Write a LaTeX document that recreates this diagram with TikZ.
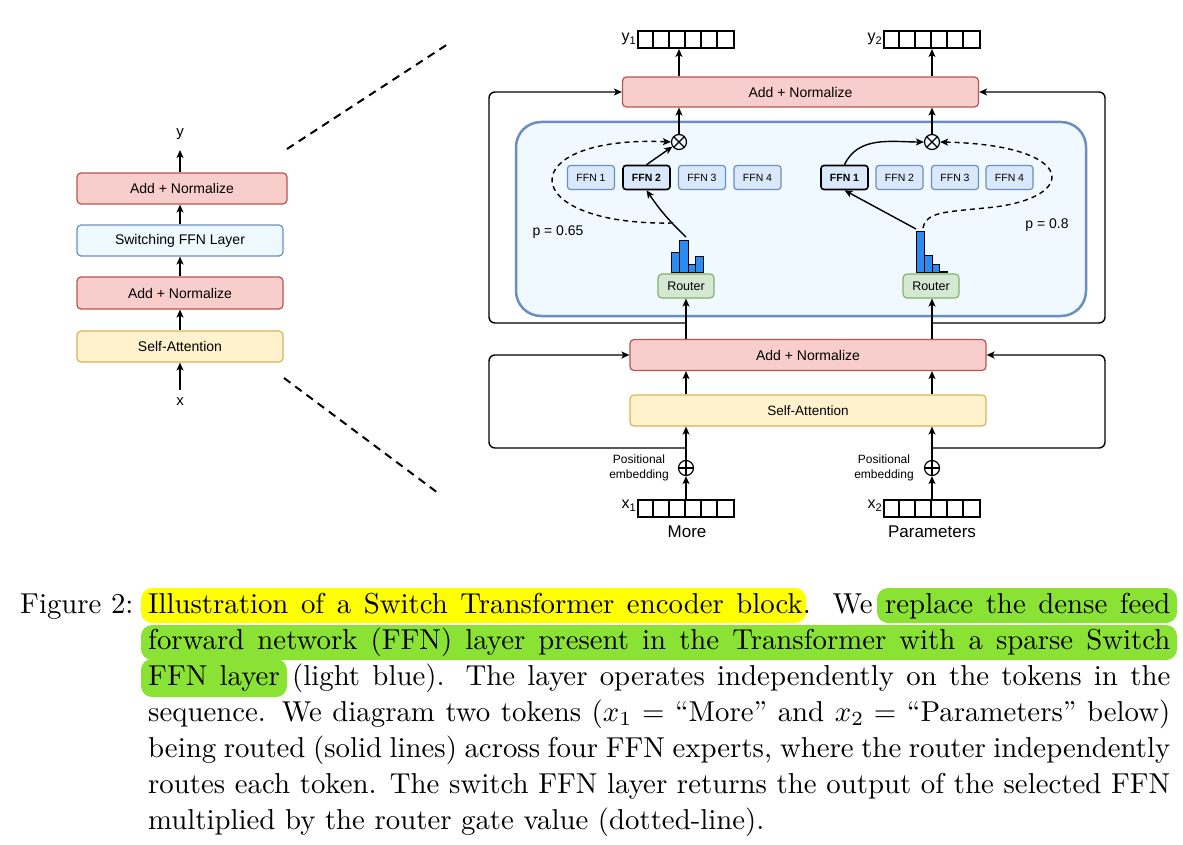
\documentclass[tikz,border=0pt]{standalone}
\usepackage{fontspec}
\newfontfamily\dfont{Liberation Sans}
\usetikzlibrary{arrows.meta,calc}
\definecolor{redF}{HTML}{F8CECC}
\definecolor{redD}{HTML}{B85450}
\definecolor{blueF}{HTML}{DAE8FC}
\definecolor{blueD}{HTML}{6C8EBF}
\definecolor{paleF}{HTML}{EEF8FF}
\definecolor{contF}{HTML}{F0F9FF}
\definecolor{yelF}{HTML}{FFF2CC}
\definecolor{yelD}{HTML}{D6B656}
\definecolor{grnF}{HTML}{D5E8D4}
\definecolor{grnD}{HTML}{82B366}
\definecolor{barF}{HTML}{2A8CF0}
\definecolor{hlY}{HTML}{FFFF00}
\definecolor{hlG}{HTML}{8AE234}
\newcommand\dfs[1]{\dfont\fontsize{#1}{#1}\selectfont}
\begin{document}
\begin{tikzpicture}[x=1pt,y=-1pt,
  arr/.style={-{Stealth[length=8pt,width=7pt,inset=2pt]},line width=1.4pt},
  dsh/.style={line width=1.4pt,dash pattern=on 5pt off 4pt},
  zoomln/.style={line width=2pt,dash pattern=on 8pt off 6pt},
  loopln/.style={arr,rounded corners=6pt},
  blk/.style={rectangle,rounded corners=4pt,line width=1.2pt,inner sep=0pt,font=\dfs{14}},
  rbox/.style={blk,draw=redD,fill=redF},
  ybox/.style={blk,draw=yelD,fill=yelF},
  pbox/.style={blk,draw=blueD,fill=paleF},
  gbox/.style={blk,draw=grnD,fill=grnF,minimum width=56pt,minimum height=24pt,font=\dfs{12.5}},
  ffn/.style={rectangle,rounded corners=3pt,draw=blueD,fill=blueF,line width=1.2pt,minimum width=47pt,minimum height=24pt,inner sep=0pt,font=\dfs{10.5}},
  ffnsel/.style={ffn,draw=black,line width=1.6pt,font=\dfs{10.5}\bfseries},
  vecn/.style={rectangle,draw,line width=2pt,minimum width=96pt,minimum height=17pt,inner sep=0pt},
  opn/.style={circle,draw,line width=1.2pt,minimum size=15pt,inner sep=0pt},
  bar/.style={draw=black,fill=barF,line width=1pt},
  lbl/.style={inner sep=1pt},
]
\useasboundingbox (0,0) rectangle (1183,845);

% ---------- left block ----------
\node[rbox,minimum width=210pt,minimum height=31pt] (lAddB) at (182,188.5) {Add + Normalize};
\node[pbox,minimum width=206pt,minimum height=31pt] (lSw) at (180,240.5) {Switching FFN Layer};
\node[rbox,minimum width=206pt,minimum height=32pt] (lAddA) at (180,293) {Add + Normalize};
\node[ybox,minimum width=206pt,minimum height=31pt] (lSA) at (180,346.5) {Self-Attention};
\node[lbl,font=\dfs{15}] (ly) at (180,134) {y};
\node[lbl,font=\dfs{15}] (lx) at (180,402) {x};
\coordinate (lyA) at (180,150);
\coordinate (lxA) at (180,390);
\draw[arr] (lxA) -- (lSA.south);
\draw[arr] (lSA.north) -- (lAddA.south);
\draw[arr] (lAddA.north) -- (lSw.south);
\draw[arr] (lSw.north) -- (lSw.north |- lAddB.south);
\draw[arr] (lSw.north |- lAddB.north) -- (lyA);

% zoom lines
\coordinate (zA1) at (287,149);
\coordinate (zA2) at (448,44);
\coordinate (zB1) at (284,378);
\coordinate (zB2) at (438,493);
\draw[zoomln] (zA1) -- (zA2);
\draw[zoomln] (zB1) -- (zB2);

% ---------- main block ----------
\node[draw=blueD,fill=contF,line width=2.5pt,rounded corners=25pt,minimum width=570pt,minimum height=194pt,inner sep=0pt] (cont) at (801,219) {};

% loops
\coordinate (jL1) at (686,323);
\coordinate (jL2) at (686,448);
\coordinate (jR1) at (932,323);
\coordinate (jR2) at (932,448);

\node[rbox,minimum width=356pt,minimum height=30pt] (addT) at (800.5,92) {Add + Normalize};
\node[rbox,minimum width=356pt,minimum height=31pt] (addM) at (808,355) {Add + Normalize};
\node[ybox,minimum width=356pt,minimum height=31pt,font=\dfs{13.5}] (selfA) at (808,410.5) {Self-Attention};

\draw[loopln] (jL1) -- (489,323) -- (489,92) -- (addT.west);
\draw[loopln] (jL2) -- (489,448) -- (489,355) -- (addM.west);
\draw[loopln] (jR1) -- (1105,323) -- (1105,92) -- (addT.east);
\draw[loopln] (jR2) -- (1105,448) -- (1105,355) -- (addM.east);

\node[opn] (otL) at (679,142) {};
\node[opn] (otR) at (932,142) {};
\node[opn] (opL) at (686,468) {};
\node[opn] (opR) at (932,468) {};
\foreach \n in {otL,otR}{\draw[line width=1.2pt] (\n.north west) -- (\n.south east) (\n.north east) -- (\n.south west);}
\foreach \n in {opL,opR}{\draw[line width=1.2pt] (\n.north) -- (\n.south) (\n.west) -- (\n.east);}

\node[ffn] (fL1) at (591,177.5) {FFN 1};
\node[ffnsel] (fL2) at (646.5,177.5) {FFN 2};
\node[ffn] (fL3) at (702,177.5) {FFN 3};
\node[ffn] (fL4) at (757.5,177.5) {FFN 4};
\node[ffnsel] (fR1) at (844.5,177.5) {FFN 1};
\node[ffn] (fR2) at (899.5,177.5) {FFN 2};
\node[ffn] (fR3) at (955,177.5) {FFN 3};
\node[ffn] (fR4) at (1009.5,177.5) {FFN 4};

\node[gbox] (rtL) at (686,286) {Router};
\node[gbox] (rtR) at (931,286) {Router};

% histograms
\foreach \a/\b/\t in {671/679.5/252,679.5/688/240,688/695.5/264,695.5/703/256}{\draw[bar] (\a,272) rectangle (\b,\t);}
\foreach \a/\b/\t in {916/924/231,924/932/255,932/939/264,939/947/271}{\draw[bar] (\a,272) rectangle (\b,\t);}
\coordinate (hL) at (686,237);
\coordinate (hR) at (916,229);
\coordinate (dL) at (673,223);
\coordinate (dR) at (923,228);
\coordinate (dRm) at (985,208);

% vectors
\node[vecn] (y1v) at (686,39.5) {};
\node[vecn] (y2v) at (932,39.5) {};
\node[vecn] (x1v) at (686,508) {};
\node[vecn] (x2v) at (932,508) {};
\foreach \v in {y1v,y2v,x1v,x2v}{\foreach \i in {1,...,5}{\draw[line width=1.8pt] ($(\v.north west)+(16*\i,0)$) -- ($(\v.south west)+(16*\i,0)$);}}

% left token path
\draw[arr] (x1v.north) -- (opL.south);
\draw[arr] (opL.north) -- (opL.north |- selfA.south);
\draw[arr] (opL |- selfA.north) -- (opL |- addM.south);
\draw[arr] (opL |- addM.north) -- (rtL.south);
\draw[arr] (hL) to[bend left=6] (fL2.south);
\draw[arr] (fL2.north) -- (otL);
\draw[arr] (otL.north) -- (otL |- addT.south);
\draw[arr] (otL |- addT.north) -- (otL |- y1v.south);
\draw[arr,dsh] (dL) .. controls (514,226) and (512,135) .. (otL.west);

% right token path
\draw[arr] (x2v.north) -- (opR.south);
\draw[arr] (opR.north) -- (opR.north |- selfA.south);
\draw[arr] (opR |- selfA.north) -- (opR |- addM.south);
\draw[arr] (opR |- addM.north) -- (opR |- rtR.south);
\draw[arr] (hR) -- (fR1.south);
\draw[arr] (fR1.north) to[out=65,in=180] (otR.west);
\draw[arr] (otR.north) -- (otR |- addT.south);
\draw[arr] (otR |- addT.north) -- (otR |- y2v.south);
\draw[arr,dsh] (dR) .. controls (926,212) and (945,212) .. (dRm) .. controls (1080,200) and (1080,145) .. (otR.east);

% labels
\node[font=\dfs{16},anchor=east,inner sep=0pt] (y1l) at (636,39) {y\raisebox{-3.5pt}{\dfs{11}1}};
\node[font=\dfs{16},anchor=east,inner sep=0pt] (y2l) at (882,39) {y\raisebox{-3.5pt}{\dfs{11}2}};
\node[font=\dfs{16},anchor=east,inner sep=0pt] (x1l) at (636,506) {x\raisebox{-3.5pt}{\dfs{11}1}};
\node[font=\dfs{16},anchor=east,inner sep=0pt] (x2l) at (882,506) {x\raisebox{-3.5pt}{\dfs{11}2}};
\node[font=\dfs{14}] (pL) at (558,232) {p = 0.65};
\node[font=\dfs{14}] (pR) at (1047,225) {p = 0.8};
\node[align=center,font=\dfont\fontsize{12}{14.5}\selectfont] (peL) at (639,468) {Positional\\embedding};
\node[align=center,font=\dfont\fontsize{12}{14.5}\selectfont] (peR) at (884,468) {Positional\\embedding};
\node[font=\dfs{17}] (mL) at (687,532) {More};
\node[font=\dfs{17}] (mR) at (932,532) {Parameters};

% ---------- caption ----------
\fill[hlY,rounded corners=11pt] (141,588) rectangle (806,623);
\fill[hlG,rounded corners=11pt] (877,588) rectangle (1177,623);
\fill[hlG,rounded corners=11pt] (141,625) rectangle (1177,660);
\fill[hlG,rounded corners=11pt] (141,659) rectangle (287,697);
\node[anchor=base west,inner sep=0pt] (figl) at (20,613) {\scalebox{2.88}{Figure 2:}};
\node[anchor=base west,inner sep=0pt] (capt) at (148,613) {\scalebox{2.88}{\parbox[t]{354.9pt}{\fontsize{10}{12.5}\selectfont Illustration of a Switch Transformer encoder block.  We replace the dense feed\linebreak forward network (FFN) layer present in the Transformer with a sparse Switch\linebreak FFN layer (light blue).  The layer operates independently on the tokens in the\linebreak sequence. We diagram two tokens ($x_1=$ ``More'' and $x_2=$ ``Parameters'' below)\linebreak being routed (solid lines) across four FFN experts, where the router independently\linebreak routes each token. The switch FFN layer returns the output of the selected FFN\linebreak multiplied by the router gate value (dotted-line).}}};
\end{tikzpicture}
\end{document}
